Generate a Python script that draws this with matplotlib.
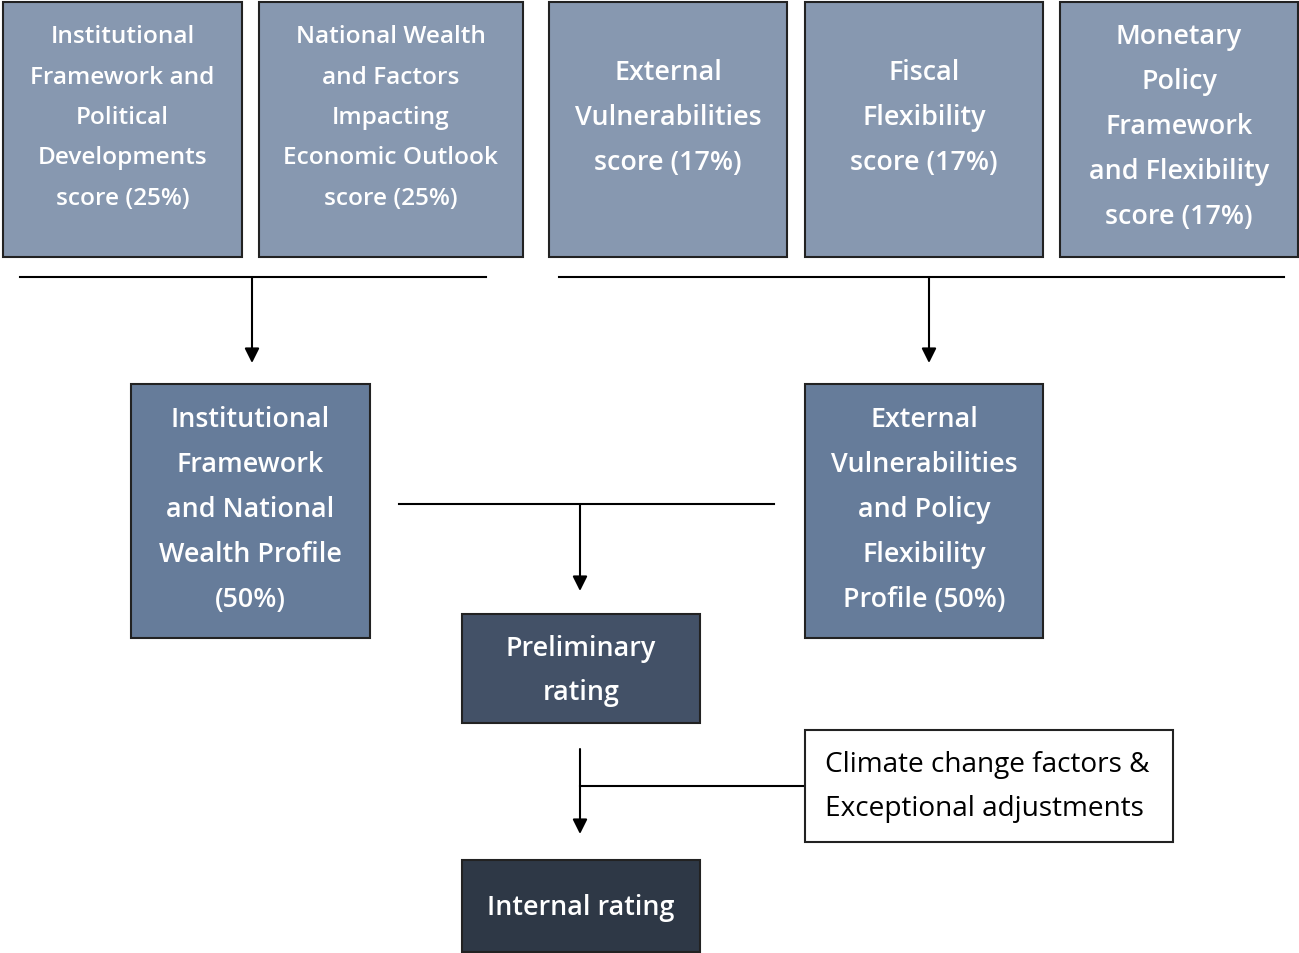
"""
Sovereign rating methodology flowchart: pillar scores feed two profiles,
which combine into a preliminary rating and then the internal rating.
"""

### Import modules
import matplotlib.pyplot as plt
from matplotlib.patches import Rectangle

plt.rcParams['font.family'] = ['Open Sans', 'DejaVu Sans']

### Box labels
top_labels = ['Institutional\nFramework and\nPolitical\nDevelopments\nscore (25%)',
              'National Wealth\nand Factors\nImpacting\nEconomic Outlook\nscore (25%)',
              'External\nVulnerabilities\nscore (17%)',
              'Fiscal\nFlexibility\nscore (17%)',
              'Monetary\nPolicy\nFramework\nand Flexibility\nscore (17%)']
mid_labels = ['Institutional\nFramework\nand National\nWealth Profile\n(50%)',
              'External\nVulnerabilities\nand Policy\nFlexibility\nProfile (50%)']
prelim_label = 'Preliminary\nrating'
final_label = 'Internal rating'
adjust_label = 'Climate change factors &\nExceptional adjustments'

### Box geometry in pixels (x0, y0, x1, y1)
top_boxes = [(3, 3, 242, 258), (259, 3, 523, 258), (549, 3, 787, 258),
             (805, 3, 1043, 258), (1060, 3, 1298, 258)]
top_sizes = [17.6, 17.6, 19.4, 19.4, 19.4]
top_ls = [1.91, 1.91, 1.8, 1.8, 1.8]
top_text_y = [118, 118, 118, 118, 127]
mid_boxes = [(131, 385, 370, 639), (805, 385, 1043, 639)]
prelim_box = (462, 615, 700, 724)
final_box = (462, 861, 700, 953)
adjust_box = (805, 731, 1173, 843)

c_top = '#8798b0'
c_mid = '#667c9a'
c_pre = '#435167'
c_fin = '#2e3846'
c_edge = '#222222'

fig = plt.figure(figsize=(12.99, 9.54), dpi=100)
ax = fig.add_axes([0, 0, 1, 1])
ax.set_xlim(0, 1299)
ax.set_ylim(954, 0)
ax.axis('off')

def box(b, color, label, size, ty=None, ls=1.8, tc='white', left=False,
        weight='semibold'):
    x0, y0, x1, y1 = b
    ax.add_patch(Rectangle((x0, y0), x1 - x0, y1 - y0, facecolor=color,
                           edgecolor=c_edge, linewidth=1.5, zorder=2))
    if ty is None:
        ty = (y0 + y1) / 2
    if left:
        ax.text(x0 + 20, ty, label, ha='left', va='center', color=tc,
                fontsize=size, linespacing=ls, fontweight=weight, zorder=3)
    else:
        ax.text((x0 + x1) / 2, ty, label, ha='center', va='center',
                color=tc, fontsize=size, linespacing=ls, fontweight=weight,
                multialignment='center', zorder=3)

def arrow(x, y0, y1):
    ax.annotate('', xy=(x, y1), xytext=(x, y0),
                arrowprops=dict(arrowstyle='-|>', color='black', lw=1.5,
                                mutation_scale=22, shrinkA=0, shrinkB=0))

### Top row
for b, lab, s, l, ty in zip(top_boxes, top_labels, top_sizes, top_ls,
                            top_text_y):
    box(b, c_top, lab, s, ty=ty, ls=l)

### Connectors from top row
ax.plot([20, 486], [278, 278], color='black', lw=1.5)
ax.plot([559, 1284], [278, 278], color='black', lw=1.5)
arrow(252, 278, 364)
arrow(929, 278, 364)

### Profiles
for b, lab in zip(mid_boxes, mid_labels):
    box(b, c_mid, lab, 19.4, ty=(b[1] + b[3]) / 2 - 2)

ax.plot([399, 774], [505, 505], color='black', lw=1.5)
arrow(580, 505, 592)

### Ratings
box(prelim_box, c_pre, prelim_label, 19.4, ty=671)
arrow(580, 750, 835)
ax.plot([580, 805], [787, 787], color='black', lw=1.5)
box(adjust_box, 'white', adjust_label, 20.2, ls=1.72, tc='black', left=True,
    weight='normal')
box(final_box, c_fin, final_label, 19.4, ty=908)

plt.savefig('out.png', dpi=100)
